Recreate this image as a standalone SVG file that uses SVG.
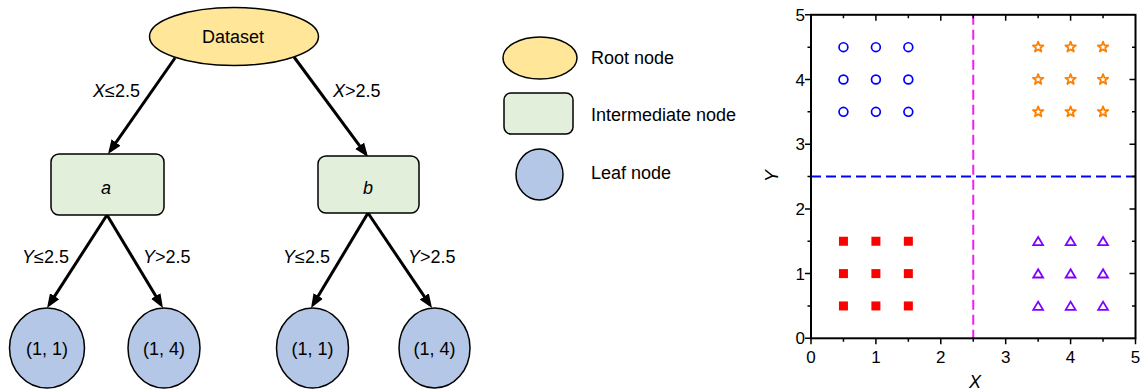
<svg xmlns="http://www.w3.org/2000/svg" xmlns:xlink="http://www.w3.org/1999/xlink" width="1143" height="392" viewBox="0 0 1143 392">
<style>
text{font-family:"Liberation Sans",Arial,sans-serif;fill:#000}
.t18{font-size:18px}
.t17{font-size:17px}
.it{font-style:italic}
.root{fill:#FFE699;stroke:#000;stroke-width:1.5}
.mid{fill:#E2EFDA;stroke:#000;stroke-width:1.5}
.leaf{fill:#B4C7E7;stroke:#000;stroke-width:1.5}
.edge{stroke:#000;stroke-width:3;fill:none;marker-end:url(#arr)}
.axis{stroke:#000;stroke-width:2;fill:none}
.tick{stroke:#000;stroke-width:1.5;fill:none}
</style>
<defs>
<marker id="arr" markerUnits="userSpaceOnUse" markerWidth="15" markerHeight="12" refX="10" refY="6" orient="auto">
<path d="M0,0.5 L14,6 L0,11.5 Z" fill="#000"/>
</marker>
<circle id="mc" r="4.4" fill="none" stroke="#0000FF" stroke-width="1.7"/>
<path id="ms" d="M0,-5.5 L1.35,-1.86 5.23,-1.7 2.19,0.71 3.23,4.45 0,2.3 -3.23,4.45 -2.19,0.71 -5.23,-1.7 -1.35,-1.86 Z" fill="#fff" stroke="#FF8000" stroke-width="1.8" stroke-linejoin="round"/>
<rect id="mq" x="-4.5" y="-4.5" width="9" height="9" fill="#FF0000"/>
<path id="mt" d="M0,-4.3 L4.9,3.9 L-4.9,3.9 Z" fill="none" stroke="#8000FF" stroke-width="1.8" stroke-linejoin="miter"/>
</defs>

<g id="connectors">
<line class="edge" x1="175" y1="58" x2="110.3" y2="150.7"/>
<line class="edge" x1="294" y1="57" x2="365.6" y2="153.8"/>
<line class="edge" x1="107" y1="215" x2="49.2" y2="304.6"/>
<line class="edge" x1="107" y1="215" x2="160.9" y2="304.6"/>
<line class="edge" x1="368" y1="213" x2="313.1" y2="304.6"/>
<line class="edge" x1="368" y1="213" x2="429.8" y2="304.7"/>
</g>

<g id="edge-labels" class="t18">
<text x="140" y="97" text-anchor="end"><tspan class="it">X</tspan>≤2.5</text>
<text x="333" y="97"><tspan class="it">X</tspan>&gt;2.5</text>
<text x="69" y="263" text-anchor="end"><tspan class="it">Y</tspan>≤2.5</text>
<text x="143" y="263"><tspan class="it">Y</tspan>&gt;2.5</text>
<text x="330" y="263" text-anchor="end"><tspan class="it">Y</tspan>≤2.5</text>
<text x="408" y="263"><tspan class="it">Y</tspan>&gt;2.5</text>
</g>

<g id="node-root">
<ellipse class="root" cx="234" cy="36.5" rx="84.5" ry="29"/>
<text class="t18" x="233" y="43" text-anchor="middle">Dataset</text>
</g>
<g id="node-a">
<rect class="mid" x="51" y="154" width="113" height="61" rx="8"/>
<text class="t18 it" x="106" y="194" text-anchor="middle">a</text>
</g>
<g id="node-b">
<rect class="mid" x="318" y="156" width="101" height="57" rx="8"/>
<text class="t18 it" x="368" y="194" text-anchor="middle">b</text>
</g>
<g id="leaf-1">
<ellipse class="leaf" cx="47" cy="348" rx="37.5" ry="40"/>
<text class="t18" x="47" y="355" text-anchor="middle">(1, 1)</text>
</g>
<g id="leaf-2">
<ellipse class="leaf" cx="164" cy="348" rx="36" ry="40"/>
<text class="t18" x="164" y="355" text-anchor="middle">(1, 4)</text>
</g>
<g id="leaf-3">
<ellipse class="leaf" cx="312.5" cy="348" rx="36" ry="40"/>
<text class="t18" x="312.5" y="355" text-anchor="middle">(1, 1)</text>
</g>
<g id="leaf-4">
<ellipse class="leaf" cx="434.5" cy="348" rx="35.5" ry="40"/>
<text class="t18" x="434.5" y="355" text-anchor="middle">(1, 4)</text>
</g>

<g id="legend">
<ellipse class="root" cx="540" cy="58" rx="37" ry="21"/>
<text class="t18" x="591" y="64">Root node</text>
<rect class="mid" x="504" y="93" width="69" height="41" rx="7"/>
<text class="t18" x="591" y="121">Intermediate node</text>
<ellipse class="leaf" cx="539.5" cy="174.5" rx="23.5" ry="25.5"/>
<text class="t18" x="591" y="179">Leaf node</text>
</g>

<g id="plot">
<line x1="973.25" y1="14.8" x2="973.25" y2="338.3" stroke="#F020F0" stroke-width="2" stroke-dasharray="10,5"/>
<line x1="811" y1="176.55" x2="1135.5" y2="176.55" stroke="#0000FF" stroke-width="2" stroke-dasharray="10,5"/>
<rect class="axis" x="811" y="14.8" width="324.5" height="323.5"/>
<path class="tick" d="M811 338.3v6M843.45 338.3v3.5M875.9 338.3v6M908.35 338.3v3.5M940.8 338.3v6M973.25 338.3v3.5M1005.7 338.3v6M1038.15 338.3v3.5M1070.6 338.3v6M1103.05 338.3v3.5M1135.5 338.3v6
M843.45 14.8v3.5M875.9 14.8v6M908.35 14.8v3.5M940.8 14.8v6M973.25 14.8v3.5M1005.7 14.8v6M1038.15 14.8v3.5M1070.6 14.8v6M1103.05 14.8v3.5
M811 338.3h-6M811 305.95h-3.5M811 273.6h-6M811 241.25h-3.5M811 208.9h-6M811 176.55h-3.5M811 144.2h-6M811 111.85h-3.5M811 79.5h-6M811 47.15h-3.5M811 14.8h-6
M1135.5 305.95h-3.5M1135.5 273.6h-6M1135.5 241.25h-3.5M1135.5 208.9h-6M1135.5 176.55h-3.5M1135.5 144.2h-6M1135.5 111.85h-3.5M1135.5 79.5h-6M1135.5 47.15h-3.5"/>
<g class="t17" text-anchor="middle">
<text x="811" y="362.5">0</text>
<text x="875.9" y="362.5">1</text>
<text x="940.8" y="362.5">2</text>
<text x="1005.7" y="362.5">3</text>
<text x="1070.6" y="362.5">4</text>
<text x="1135.5" y="362.5">5</text>
</g>
<g class="t17" text-anchor="end">
<text x="805" y="344.3">0</text>
<text x="805" y="279.6">1</text>
<text x="805" y="214.9">2</text>
<text x="805" y="150.2">3</text>
<text x="805" y="85.5">4</text>
<text x="805" y="20.8">5</text>
</g>
<text class="t18 it" x="975" y="388" text-anchor="middle">X</text>
<text class="t18 it" transform="translate(778,176) rotate(-90)" text-anchor="middle">Y</text>

<g id="class-circles">
<use xlink:href="#mc" x="843.45" y="47.15"/><use xlink:href="#mc" x="875.9" y="47.15"/><use xlink:href="#mc" x="908.35" y="47.15"/>
<use xlink:href="#mc" x="843.45" y="79.5"/><use xlink:href="#mc" x="875.9" y="79.5"/><use xlink:href="#mc" x="908.35" y="79.5"/>
<use xlink:href="#mc" x="843.45" y="111.85"/><use xlink:href="#mc" x="875.9" y="111.85"/><use xlink:href="#mc" x="908.35" y="111.85"/>
</g>
<g id="class-stars">
<use xlink:href="#ms" x="1038.15" y="47.15"/><use xlink:href="#ms" x="1070.6" y="47.15"/><use xlink:href="#ms" x="1103.05" y="47.15"/>
<use xlink:href="#ms" x="1038.15" y="79.5"/><use xlink:href="#ms" x="1070.6" y="79.5"/><use xlink:href="#ms" x="1103.05" y="79.5"/>
<use xlink:href="#ms" x="1038.15" y="111.85"/><use xlink:href="#ms" x="1070.6" y="111.85"/><use xlink:href="#ms" x="1103.05" y="111.85"/>
</g>
<g id="class-squares">
<use xlink:href="#mq" x="843.45" y="241.25"/><use xlink:href="#mq" x="875.9" y="241.25"/><use xlink:href="#mq" x="908.35" y="241.25"/>
<use xlink:href="#mq" x="843.45" y="273.6"/><use xlink:href="#mq" x="875.9" y="273.6"/><use xlink:href="#mq" x="908.35" y="273.6"/>
<use xlink:href="#mq" x="843.45" y="305.95"/><use xlink:href="#mq" x="875.9" y="305.95"/><use xlink:href="#mq" x="908.35" y="305.95"/>
</g>
<g id="class-triangles">
<use xlink:href="#mt" x="1038.15" y="241.25"/><use xlink:href="#mt" x="1070.6" y="241.25"/><use xlink:href="#mt" x="1103.05" y="241.25"/>
<use xlink:href="#mt" x="1038.15" y="273.6"/><use xlink:href="#mt" x="1070.6" y="273.6"/><use xlink:href="#mt" x="1103.05" y="273.6"/>
<use xlink:href="#mt" x="1038.15" y="305.95"/><use xlink:href="#mt" x="1070.6" y="305.95"/><use xlink:href="#mt" x="1103.05" y="305.95"/>
</g>
</g>
</svg>
